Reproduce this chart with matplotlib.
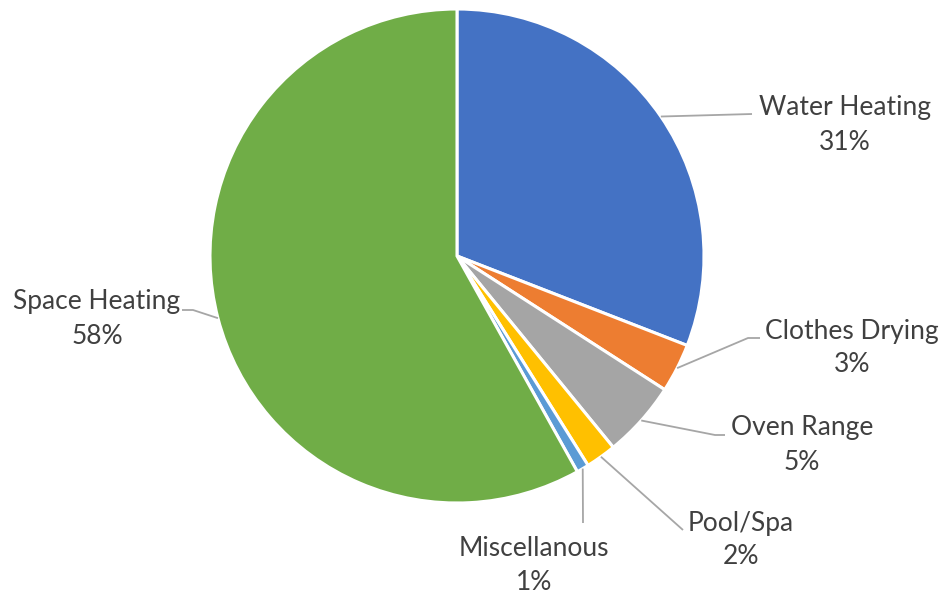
import matplotlib.pyplot as plt
import numpy as np

# Share of energy use by end use
categories = ["Water Heating", "Clothes Drying", "Oven Range",
              "Pool/Spa", "Miscellanous", "Space Heating"]
shares = [30.9, 3.2, 5.0, 2.0, 0.8, 58.1]
pct_labels = ["31%", "3%", "5%", "2%", "1%", "58%"]
colors = ["#4472C4", "#ED7D31", "#A5A5A5", "#FFC000", "#5B9BD5", "#70AD47"]

W, H = 943, 597
cx, cy, r = 457, H - 256, 247

# label centre and leader elbow, in pixel space (y measured from the top)
label_pos = [(845, 125), (852, 348), (802, 445), (741, 540), (534, 566), (97, 319)]
elbows = [[(752, 114)], [(748, 338), (760, 338)], [(715, 435), (725, 435)],
          [(683, 530)], [(583, 523)], [(193, 310), (182, 310)]]

fig = plt.figure(figsize=(W / 100, H / 100), dpi=100)
ax = fig.add_axes([0, 0, 1, 1])

wedges, _ = ax.pie(shares, colors=colors, startangle=90, counterclock=False,
                   center=(cx, cy), radius=r, frame=True,
                   wedgeprops=dict(edgecolor="white", linewidth=2.2))
ax.set_xlim(0, W)
ax.set_ylim(0, H)
ax.set_aspect("equal")
ax.axis("off")

fracs = np.array(shares) / sum(shares)
starts = np.concatenate([[0], np.cumsum(fracs)[:-1]])
mids = starts + fracs / 2

for i, name in enumerate(categories):
    ang = np.deg2rad(90 - mids[i] * 360)
    x0, y0 = cx + r * np.cos(ang), cy + r * np.sin(ang)
    pts = [(x0, y0)] + [(px, H - py) for px, py in elbows[i]]
    xs, ys = zip(*pts)
    ax.plot(xs, ys, color="#A6A6A6", lw=1.3, solid_capstyle="butt")
    lx, ly = label_pos[i]
    ax.text(lx, H - ly, name + "\n" + pct_labels[i], ha="center", va="center",
            fontsize=19, family="Lato", color="#404040", linespacing=1.45)

fig.savefig("out.png", dpi=100)
